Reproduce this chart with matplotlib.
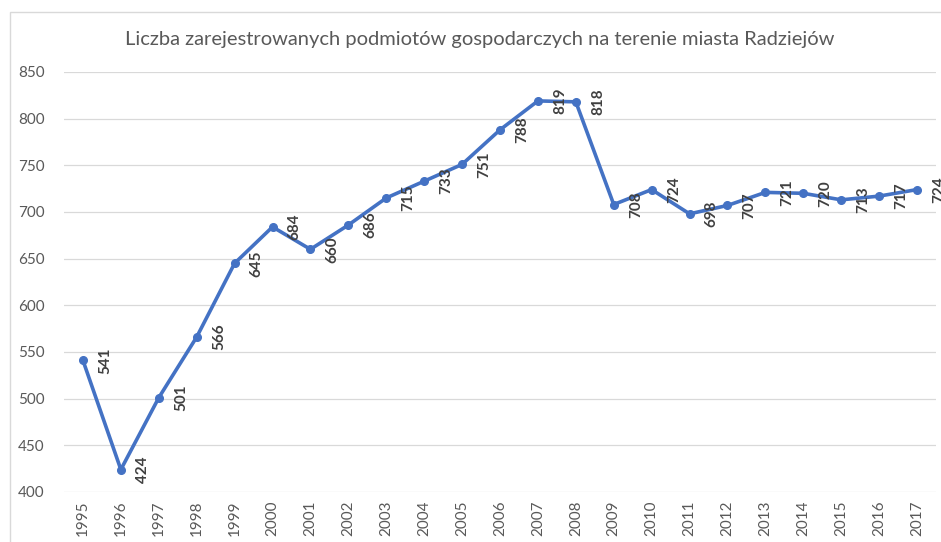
import matplotlib
matplotlib.use("Agg")
import matplotlib.pyplot as plt
from matplotlib.patches import Rectangle

# data
years = [str(y) for y in range(1995, 2018)]
values = [541, 424, 501, 566, 645, 684, 660, 686, 715, 733, 751, 788,
          819, 818, 708, 724, 698, 707, 721, 720, 713, 717, 724]

plt.rcParams["font.family"] = ["Lato", "DejaVu Sans"]

fig = plt.figure(figsize=(9.41, 5.42), dpi=100)
ax = fig.add_axes([0.068, 0.0923, 0.9267, 0.7749])

# outer chart frame
fig.patches.append(Rectangle((10 / 941, -0.05), 1.2, 1 - 12 / 542 + 0.05,
                             transform=fig.transFigure, fill=False,
                             edgecolor="#D9D9D9", linewidth=1.0))

x = list(range(len(years)))
ax.plot(x, values, color="#4472C4", linewidth=2.6, marker="o",
        markersize=5.5, zorder=3)

for xi, v in zip(x, values):
    ax.annotate(str(v), (xi, v), xytext=(16, 0), textcoords="offset points",
                rotation=90, ha="center", va="center", fontsize=11,
                fontweight="bold", color="#404040", zorder=4)

ax.set_xlim(-0.5, len(years) - 0.5)
ax.set_ylim(400, 850)
ax.set_yticks(range(400, 851, 50))
ax.set_xticks(x)
ax.set_xticklabels(years, rotation=90)
ax.tick_params(axis="both", length=0, labelsize=11, labelcolor="#595959")
ax.tick_params(axis="x", pad=6)
ax.tick_params(axis="y", pad=14)
ax.grid(axis="y", color="#D9D9D9", linewidth=0.9)
ax.set_axisbelow(True)
for s in ax.spines.values():
    s.set_visible(False)

fig.text(0.51, 1 - 40 / 542,
         "Liczba zarejestrowanych podmiotów gospodarczych na terenie miasta Radziejów",
         ha="center", va="center", fontsize=14.5, color="#595959")

fig.savefig("out.png", dpi=100)
